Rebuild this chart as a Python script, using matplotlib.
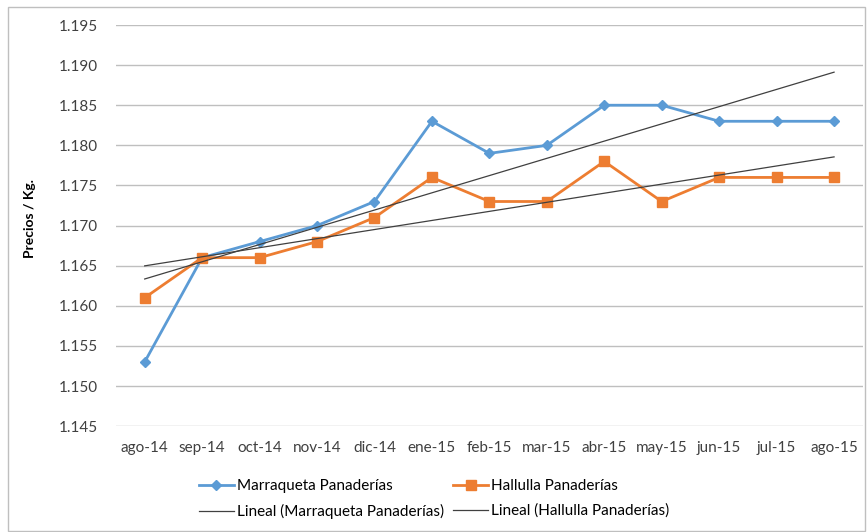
import numpy as np
import matplotlib
matplotlib.use("Agg")
from matplotlib import pyplot as plt
from matplotlib.patches import Rectangle

# months and prices (pesos / kg)
meses = ["ago-14", "sep-14", "oct-14", "nov-14", "dic-14", "ene-15", "feb-15",
         "mar-15", "abr-15", "may-15", "jun-15", "jul-15", "ago-15"]
marraqueta = [1153, 1166, 1168, 1170, 1173, 1183, 1179, 1180, 1185, 1185, 1183, 1183, 1183]
hallulla = [1161, 1166, 1166, 1168, 1171, 1176, 1173, 1173, 1178, 1173, 1176, 1176, 1176]
yticks = [1145, 1150, 1155, 1160, 1165, 1170, 1175, 1180, 1185, 1190, 1195]

plt.rcParams['font.family'] = ['Lato', 'DejaVu Sans']

fig = plt.figure(figsize=(8.68, 5.32), dpi=100)
ax = fig.add_axes([0.1336, 0.199, 0.8604, 0.754])

x = np.arange(len(meses))

# linear trend lines
fit_m = np.polyfit(x, marraqueta, 1)
fit_h = np.polyfit(x, hallulla, 1)

l1, = ax.plot(x, marraqueta, color="#5B9BD5", lw=2, marker="D", ms=5,
              label="Marraqueta Panaderías", zorder=3)
l2, = ax.plot(x, hallulla, color="#ED7D31", lw=2, marker="s", ms=6.5,
              label="Hallulla Panaderías", zorder=3)
t1, = ax.plot(x, np.polyval(fit_m, x), color="#404040", lw=0.9,
              label="Lineal (Marraqueta Panaderías)", zorder=4)
t2, = ax.plot(x, np.polyval(fit_h, x), color="#404040", lw=0.9,
              label="Lineal (Hallulla Panaderías)", zorder=4)

ax.set_xlim(-0.5, len(meses) - 0.5)
ax.set_ylim(1145, 1195)
ax.set_yticks(yticks)
ax.set_yticklabels([f"{v:,.0f}".replace(",", ".") for v in yticks])
ax.set_xticks(x)
ax.set_xticklabels(meses)
ax.tick_params(length=0, labelsize=11, labelcolor="#404040", pad=11)
ax.tick_params(axis="y", pad=13)
ax.grid(axis="y", color="#BFBFBF", lw=1)
ax.set_axisbelow(True)
for s in ax.spines.values():
    s.set_visible(False)

fig.text(0.035, 0.59, "Precios / Kg.", rotation=90, fontsize=10,
         fontweight="bold", ha="center", va="center")

fig.legend(handles=[l1, t1, l2, t2], ncol=2, loc="center",
           bbox_to_anchor=(0.5, 0.062), frameon=False, fontsize=11,
           handlelength=2.3, columnspacing=0.6, labelspacing=0.7,
           handletextpad=0.2)

fig.patches.append(Rectangle((0.009, 0.002), 0.988, 0.985, transform=fig.transFigure,
                             fill=False, edgecolor="#BFBFBF", lw=1))

fig.savefig("out.png", dpi=100)
